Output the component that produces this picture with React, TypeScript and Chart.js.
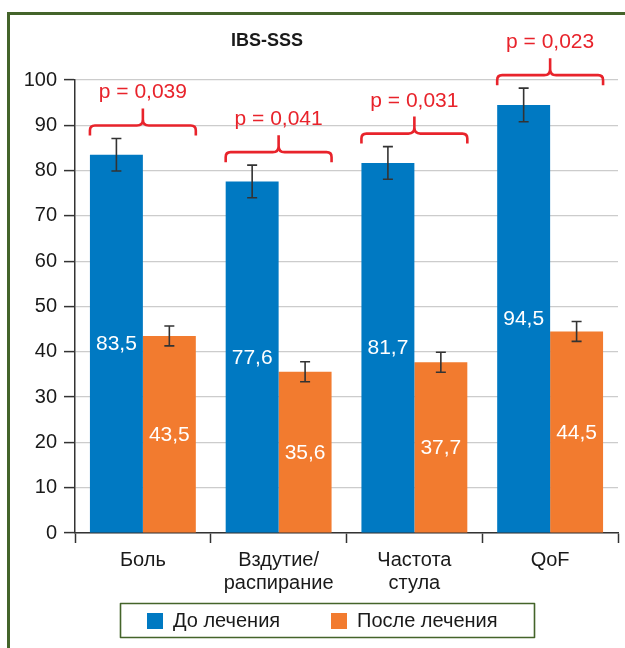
import React, { useEffect, useRef } from 'react';
import { Chart, registerables } from 'chart.js';

Chart.register(...registerables);

const chartTitle = 'IBS-SSS';
const categories = [['Боль'], ['Вздутие/', 'распирание'], ['Частота', 'стула'], ['QoF']];
const seriesNames = ['До лечения', 'После лечения'];
const beforeValues = [83.5, 77.6, 81.7, 94.5];
const afterValues = [43.5, 35.6, 37.7, 44.5];
const beforeErrors = [3.6, 3.6, 3.6, 3.7];
const afterErrors = [2.2, 2.2, 2.2, 2.2];
const pValues = ['p = 0,039', 'p = 0,041', 'p = 0,031', 'p = 0,023'];
const yMin = 0;
const yMax = 100;
const yStep = 10;

const BLUE = '#0079c2';
const ORANGE = '#f27b2f';
const RED = '#e8232b';
const GREEN = '#44642a';
const TEXT = '#1a1a1a';
const FONT = '"Liberation Sans", Arial, Helvetica, sans-serif';

const errorsByDataset = [beforeErrors, afterErrors];

const overlayPlugin = {
  id: 'overlay',
  beforeDraw(chart: any) {
    const ctx = chart.ctx;
    ctx.save();
    ctx.fillStyle = '#ffffff';
    ctx.fillRect(0, 0, chart.width, chart.height);
    ctx.fillStyle = GREEN;
    ctx.fillRect(7, 12, 3, chart.height - 12);
    ctx.fillRect(7, 12, chart.width - 7, 3);
    ctx.restore();
  },
  afterDatasetsDraw(chart: any) {
    const ctx = chart.ctx;
    const yScale = chart.scales.y;
    ctx.save();

    // value labels and error bars
    chart.data.datasets.forEach((ds: any, di: number) => {
      const meta = chart.getDatasetMeta(di);
      meta.data.forEach((bar: any, i: number) => {
        const v = ds.data[i];
        const { x, y, base } = bar.getProps(['x', 'y', 'base'], true);
        ctx.fillStyle = '#ffffff';
        ctx.font = `21px ${FONT}`;
        ctx.textAlign = 'center';
        ctx.textBaseline = 'middle';
        ctx.fillText(v.toFixed(1).replace('.', ','), x, (y + base) / 2 + 1);

        const e = errorsByDataset[di][i];
        const yt = yScale.getPixelForValue(v + e);
        const yb = yScale.getPixelForValue(v - e);
        ctx.strokeStyle = '#333333';
        ctx.lineWidth = 1.6;
        ctx.beginPath();
        ctx.moveTo(x, yt);
        ctx.lineTo(x, yb);
        ctx.moveTo(x - 5, yt);
        ctx.lineTo(x + 5, yt);
        ctx.moveTo(x - 5, yb);
        ctx.lineTo(x + 5, yb);
        ctx.stroke();
      });
    });

    // significance braces
    const m0 = chart.getDatasetMeta(0);
    const m1 = chart.getDatasetMeta(1);
    pValues.forEach((p, i) => {
      const b0 = m0.data[i];
      const b1 = m1.data[i];
      const left = b0.x - b0.width / 2;
      const right = b1.x + b1.width / 2;
      const cx = (left + right) / 2;
      const top0 = yScale.getPixelForValue(beforeValues[i] + beforeErrors[i]);
      const top1 = yScale.getPixelForValue(afterValues[i] + afterErrors[i]);
      const hy = Math.min(top0, top1) - 13;
      const d = 10, r = 5, r2 = 6, h = 17;
      ctx.strokeStyle = RED;
      ctx.lineWidth = 2.6;
      ctx.lineCap = 'butt';
      ctx.lineJoin = 'round';
      ctx.beginPath();
      ctx.moveTo(left, hy + d);
      ctx.lineTo(left, hy + r);
      ctx.quadraticCurveTo(left, hy, left + r, hy);
      ctx.lineTo(cx - r2, hy);
      ctx.quadraticCurveTo(cx, hy, cx, hy - r2);
      ctx.lineTo(cx, hy - h);
      ctx.moveTo(right, hy + d);
      ctx.lineTo(right, hy + r);
      ctx.quadraticCurveTo(right, hy, right - r, hy);
      ctx.lineTo(cx + r2, hy);
      ctx.quadraticCurveTo(cx, hy, cx, hy - r2);
      ctx.stroke();

      ctx.fillStyle = RED;
      ctx.font = `21px ${FONT}`;
      ctx.textAlign = 'center';
      ctx.textBaseline = 'alphabetic';
      ctx.fillText(p, cx, hy - h - 10);
    });

    // title
    ctx.fillStyle = TEXT;
    ctx.font = `bold 18px ${FONT}`;
    ctx.textAlign = 'center';
    ctx.textBaseline = 'middle';
    ctx.fillText(chartTitle, 267, 41);

    // legend
    ctx.strokeStyle = GREEN;
    ctx.lineWidth = 1.6;
    ctx.strokeRect(120.5, 603.5, 414, 34);
    const items = [
      { color: BLUE, label: seriesNames[0], x: 147 },
      { color: ORANGE, label: seriesNames[1], x: 331 },
    ];
    ctx.font = `20px ${FONT}`;
    ctx.textAlign = 'left';
    ctx.textBaseline = 'middle';
    items.forEach((it) => {
      ctx.fillStyle = it.color;
      ctx.fillRect(it.x, 613, 16, 16);
      ctx.fillStyle = TEXT;
      ctx.fillText(it.label, it.x + 26, 621);
    });

    ctx.restore();
  },
};

export default function App() {
  const ref = useRef<HTMLCanvasElement>(null);

  useEffect(() => {
    document.body.style.margin = '0';
    Chart.defaults.font.family = FONT;
    const chart = new Chart(ref.current as HTMLCanvasElement, {
      type: 'bar',
      data: {
        labels: categories,
        datasets: [
          {
            label: seriesNames[0],
            data: beforeValues,
            backgroundColor: BLUE,
            categoryPercentage: 0.78,
            barPercentage: 1,
          },
          {
            label: seriesNames[1],
            data: afterValues,
            backgroundColor: ORANGE,
            categoryPercentage: 0.78,
            barPercentage: 1,
          },
        ],
      },
      options: {
        responsive: false,
        animation: false,
        devicePixelRatio: 1,
        layout: { padding: { left: 0, right: 7, top: 80, bottom: 0 } },
        plugins: {
          legend: { display: false },
          title: { display: false },
          tooltip: { enabled: false },
        },
        scales: {
          x: {
            grid: {
              drawOnChartArea: false,
              tickColor: '#333333',
              tickLength: 10,
              tickWidth: 1.5,
              offset: true,
            },
            border: { color: '#333333', width: 1.5 },
            ticks: {
              color: TEXT,
              font: { size: 20, family: FONT, lineHeight: 1.15 },
              padding: 6,
              maxRotation: 0,
              autoSkip: false,
            },
            afterFit: (s: any) => {
              s.height = 115;
            },
          },
          y: {
            min: yMin,
            max: yMax,
            grid: {
              color: '#cccccc',
              lineWidth: 1.2,
              tickColor: '#333333',
              tickLength: 11,
              tickWidth: 1.5,
            },
            border: { color: '#333333', width: 1.5 },
            ticks: {
              stepSize: yStep,
              color: TEXT,
              font: { size: 20, family: FONT },
              padding: 7,
            },
            afterFit: (s: any) => {
              s.width = 75;
            },
          },
        },
      },
      plugins: [overlayPlugin],
    });
    return () => chart.destroy();
  }, []);

  return <canvas ref={ref} width={625} height={648} style={{ display: 'block' }} />;
}
